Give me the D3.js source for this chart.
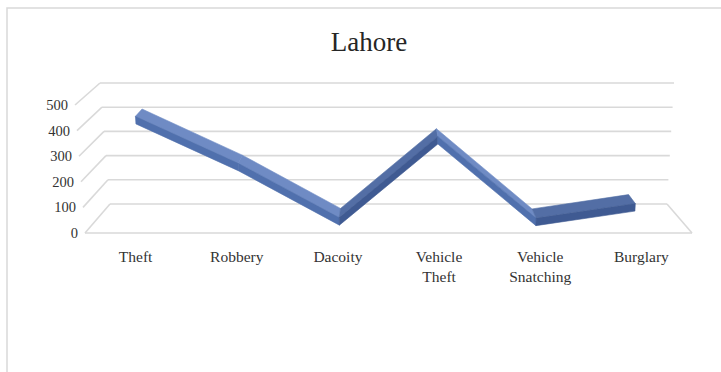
<!DOCTYPE html>
<html><head><meta charset="utf-8">
<script src="https://cdn.jsdelivr.net/npm/d3@7"></script>
<style>html,body{margin:0;padding:0;background:#fff;}</style>
</head><body>
<svg id="chart" width="721" height="372"></svg>
<script>
const title = "Lahore";
const categories = ["Theft", "Robbery", "Dacoity", "Vehicle Theft", "Vehicle Snatching", "Burglary"];
const categoryLines = [["Theft"], ["Robbery"], ["Dacoity"], ["Vehicle", "Theft"], ["Vehicle", "Snatching"], ["Burglary"]];
const values = [425, 238, 22, 345, 20, 78];
const yTicks = [0, 100, 200, 300, 400, 500];

const svg = d3.select("#chart");
svg.append("rect").attr("x", 7).attr("y", 8).attr("width", 800).attr("height", 500)
  .attr("fill", "#fff").attr("stroke", "#d9d9d9").attr("stroke-width", 1.5);

// perspective box corners (u: 0..1 left->right, v: 0..1 value, w: 0 front ..1 back)
const C = {
  FLB: [85, 233], FLT: [75, 105], FRB: [692, 233], FRT: [700, 105],
  BLB: [110, 204], BLT: [100, 83], BRB: [667, 204], BRT: [674, 83]
};
const lerp = (a, b, t) => [a[0] + (b[0] - a[0]) * t, a[1] + (b[1] - a[1]) * t];
function P(u, v, w) {
  const fb = lerp(C.FLB, C.FRB, u), ft = lerp(C.FLT, C.FRT, u);
  const bb = lerp(C.BLB, C.BRB, u), bt = lerp(C.BLT, C.BRT, u);
  const f = lerp(fb, ft, v), b = lerp(bb, bt, v);
  return lerp(f, b, w);
}

const x = d3.scaleBand().domain(categories).range([0, 1]);
const y = d3.scaleLinear().domain([0, 500]).range([0, 1]);
const uc = c => x(c) + x.bandwidth() / 2;

const grid = svg.append("g").attr("fill", "none").attr("stroke", "#d9d9d9").attr("stroke-width", 1.6);
const line = d3.line();
yTicks.forEach(t => {
  const v = y(t);
  grid.append("path").attr("d", line([P(0, v, 1), P(1, v, 1)]));
  grid.append("path").attr("d", line([P(0, v, 0), P(0, v, 1)]));
});
grid.append("path").attr("d", line([P(0, 0, 0), P(1, 0, 0)]));
grid.append("path").attr("d", line([P(1, 0, 0), P(1, 0, 1)]));

// y labels
svg.append("g").selectAll("text").data(yTicks).join("text")
  .attr("x", d => P(0, y(d), 0)[0] - 7)
  .attr("y", d => P(0, y(d), 0)[1])
  .attr("dy", "0.35em").attr("text-anchor", "end")
  .attr("font-family", "Liberation Serif, Times New Roman, serif")
  .attr("font-size", 14.5).attr("fill", "#333")
  .text(d => d);

// category labels
const cl = svg.append("g").attr("font-family", "Liberation Serif, Times New Roman, serif")
  .attr("font-size", 15.5).attr("fill", "#333").attr("text-anchor", "middle");
categories.forEach((c, i) => {
  const p = P(uc(c), 0, 0);
  const t = cl.append("text").attr("x", p[0]).attr("y", p[1] + 29);
  categoryLines[i].forEach((s, j) => t.append("tspan").attr("x", p[0]).attr("dy", j ? 20 : 0).text(s));
});

// 3D ribbon
const w0 = 0.34, w1 = 0.66, thick = 30;
const rib = svg.append("g").attr("stroke-linejoin", "round");
for (let i = 0; i < categories.length - 1; i++) {
  const ua = uc(categories[i]), ub = uc(categories[i + 1]);
  const va = y(values[i]), vb = y(values[i + 1]);
  const vat = y(values[i] - thick), vbt = y(values[i + 1] - thick);
  const desc = values[i + 1] < values[i];
  const top = [P(ua, va, w0), P(ub, vb, w0), P(ub, vb, w1), P(ua, va, w1)];
  const front = [P(ua, va, w0), P(ub, vb, w0), P(ub, vbt, w0), P(ua, vat, w0)];
  const tc = desc ? "#6f8bc4" : "#536ea5", fc = desc ? "#5070ad" : "#3f5a92";
  rib.append("path").attr("d", line(top) + "Z").attr("fill", tc).attr("stroke", tc).attr("stroke-width", 0.6);
  rib.append("path").attr("d", line(front) + "Z").attr("fill", fc).attr("stroke", fc).attr("stroke-width", 0.6);
}

// title
svg.append("text").attr("x", 369).attr("y", 51).attr("text-anchor", "middle")
  .attr("font-family", "Liberation Serif, Times New Roman, serif")
  .attr("font-size", 27).attr("fill", "#262626").text(title);
</script>
</body></html>
